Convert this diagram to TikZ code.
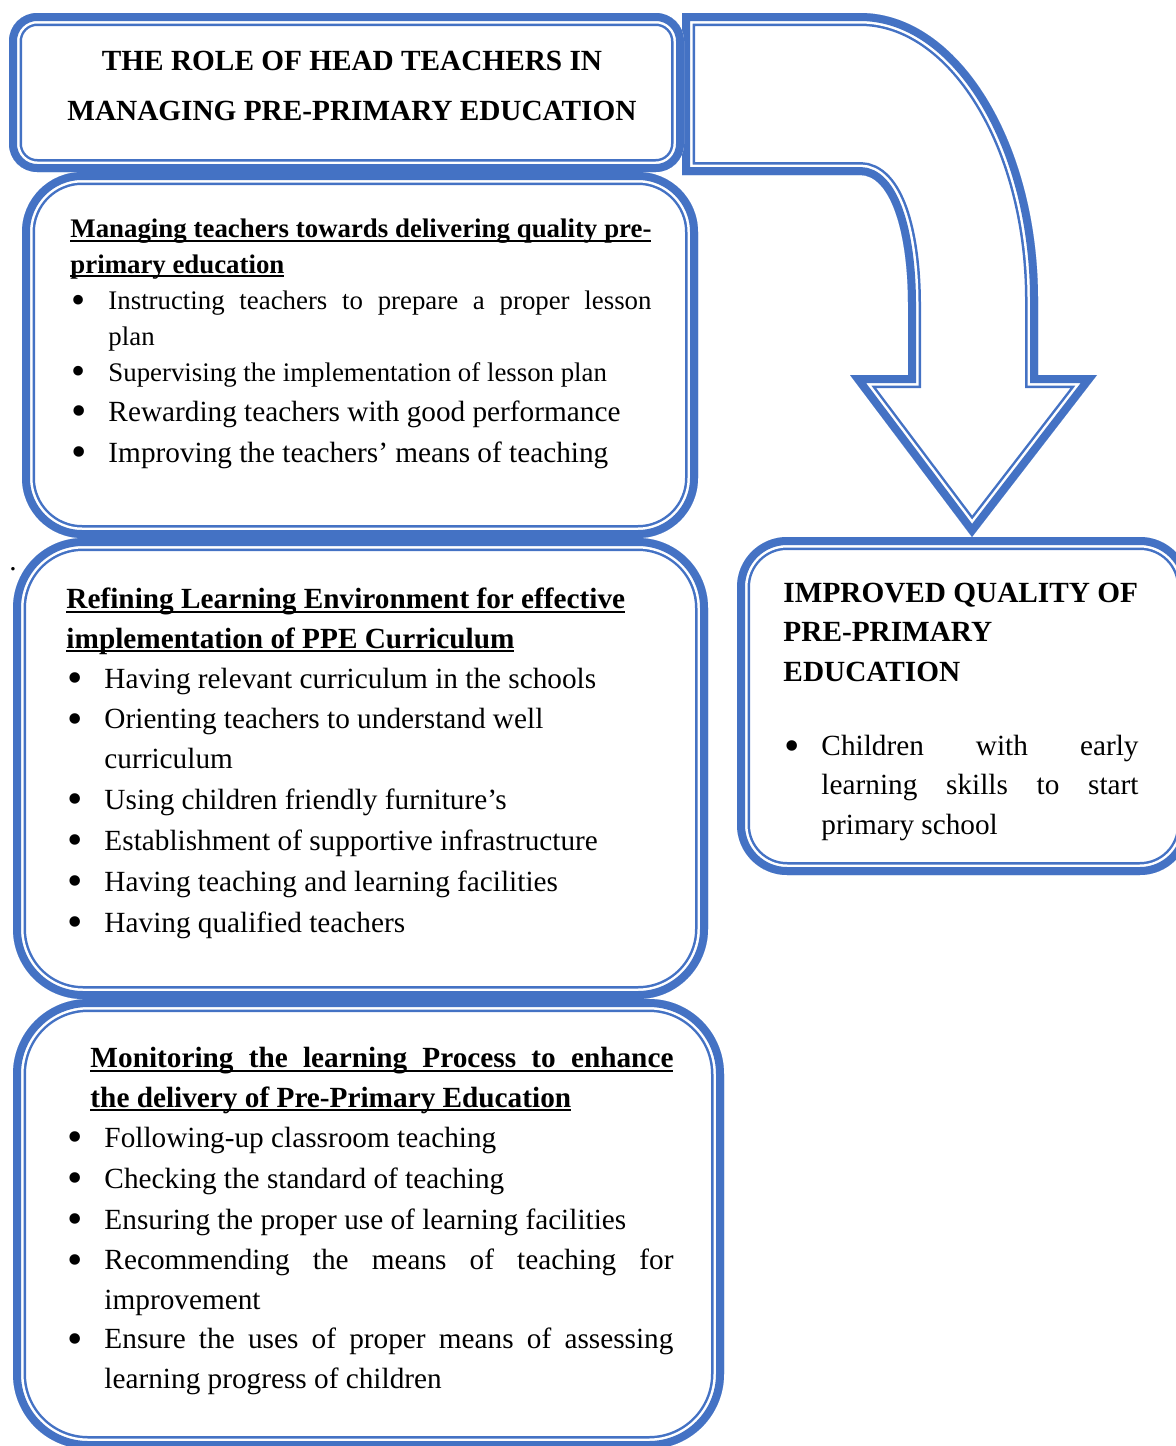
\documentclass[tikz,border=0pt]{standalone}
\usepackage{fontspec}
\setmainfont{Liberation Serif}
\definecolor{frameblue}{RGB}{68,114,196}

% one pixel of the layout grid
\newlength{\px}
\setlength{\px}{0.41pt}

\newcommand{\bodytext}{\fontsize{12}{16}\selectfont}
\newcommand{\smalltext}{\fontsize{11}{14.4}\selectfont}

% thick-thin outline, drawn on the inside of a closed path
\newcommand{\dblframe}[1]{%
  \begin{scope}
    \clip #1;
    \draw[frameblue, line width=26\px] #1;
    \draw[white, line width=21\px] #1;
    \draw[frameblue, line width=16\px] #1;
  \end{scope}}

\newcommand{\uln}[1]{\setbox0=\hbox{#1}\rlap{\rule[-4\px]{\wd0}{2.2\px}}\box0}
\newcommand{\bul}{\makebox[38\px][l]{\hspace{1\px}\raisebox{-0.14em}{\scalebox{1.5}{\textbullet}}}}
\newcommand{\jline}[2]{\makebox[#1\px][s]{#2}}

\begin{document}
\begin{tikzpicture}[
  x=1\px, y=-1\px,
  txt/.style={anchor=base west, inner sep=0pt, align=left, font=\bodytext},
  head/.style={txt, font=\bodytext\bfseries}
]
  \clip (0,0) rectangle (1176,1446);

  % frames
  \dblframe{(682,13) -- (860,13) .. controls (958,13) and (1038,142) .. (1038,300)
    -- (1038,375) -- (1097,375) -- (972,537) -- (850,375) -- (908,375) -- (908,305)
    .. controls (908,230) and (890,175) .. (860,175) -- (682,175) -- cycle}
  \dblframe{[rounded corners=28\px] (9,13) rectangle (684,172)}
  \dblframe{[rounded corners=60\px] (22,172) rectangle (698,538)}
  \dblframe{[rounded corners=70\px] (13,538) rectangle (708,999)}
  \dblframe{[rounded corners=75\px] (13,999) rectangle (724,1449)}
  \dblframe{[rounded corners=50\px] (737,537) rectangle (1190,875)}

  % title (multi-line nodes sit on their last baseline)
  \node[head, anchor=base, align=center, font={\fontsize{12}{20.5}\selectfont\bfseries}] (title)
    at (352,120) {THE ROLE OF HEAD TEACHERS IN\\ MANAGING PRE-PRIMARY EDUCATION};

  % managing teachers
  \node[head, font=\smalltext\bfseries] (mgmthead) at (70,273)
    {\uln{\jline{581}{Managing teachers towards delivering quality pre-}}\\ \uln{primary education}};
  \node[txt, font=\smalltext] (mgmt1) at (70,345)
    {\bul\jline{543}{Instructing teachers to prepare a proper lesson}\\ \hspace*{38\px}plan};
  \node[txt, font=\smalltext] (mgmt2) at (70,381) {\bul Supervising the implementation of lesson plan};
  \node[txt] (mgmt3) at (70,421) {\bul Rewarding teachers with good performance};
  \node[txt] (mgmt4) at (70,462) {\bul Improving the teachers’ means of teaching};

  \node[txt] (stray) at (9,570) {.};

  % learning environment
  \node[head] (envhead) at (66,648)
    {\uln{Refining Learning Environment for effective}\\ \uln{implementation of PPE Curriculum}};
  \node[txt] (env1) at (66,688) {\bul Having relevant curriculum in the schools};
  \node[txt] (env2) at (66,768) {\bul Orienting teachers to understand well\\ \hspace*{38\px}curriculum};
  \node[txt] (env3) at (66,809) {\bul Using children friendly furniture’s};
  \node[txt] (env4) at (66,850) {\bul Establishment of supportive infrastructure};
  \node[txt] (env5) at (66,891) {\bul Having teaching and learning facilities};
  \node[txt] (env6) at (66,932) {\bul Having qualified teachers};

  % monitoring
  \node[head] (monhead) at (90,1107)
    {\uln{\jline{583}{Monitoring the learning Process to enhance}}\\ \uln{the delivery of Pre-Primary Education}};
  \node[txt] (mon1) at (66,1147) {\bul Following-up classroom teaching};
  \node[txt] (mon2) at (66,1188) {\bul Checking the standard of teaching};
  \node[txt] (mon3) at (66,1229) {\bul Ensuring the proper use of learning facilities};
  \node[txt] (mon4) at (66,1309)
    {\bul\jline{569}{Recommending the means of teaching for}\\ \hspace*{38\px}improvement};
  \node[txt] (mon5) at (66,1388)
    {\bul\jline{569}{Ensure the uses of proper means of assessing}\\ \hspace*{38\px}learning progress of children};

  % outcome
  \node[head] (outhead) at (783,681) {IMPROVED QUALITY OF\\ PRE-PRIMARY\\ EDUCATION};
  \node[txt] (out1) at (783,834)
    {\bul\jline{317}{Children with early}\\ \hspace*{38\px}\jline{317}{learning skills to start}\\
     \hspace*{38\px}primary school};
\end{tikzpicture}
\end{document}
